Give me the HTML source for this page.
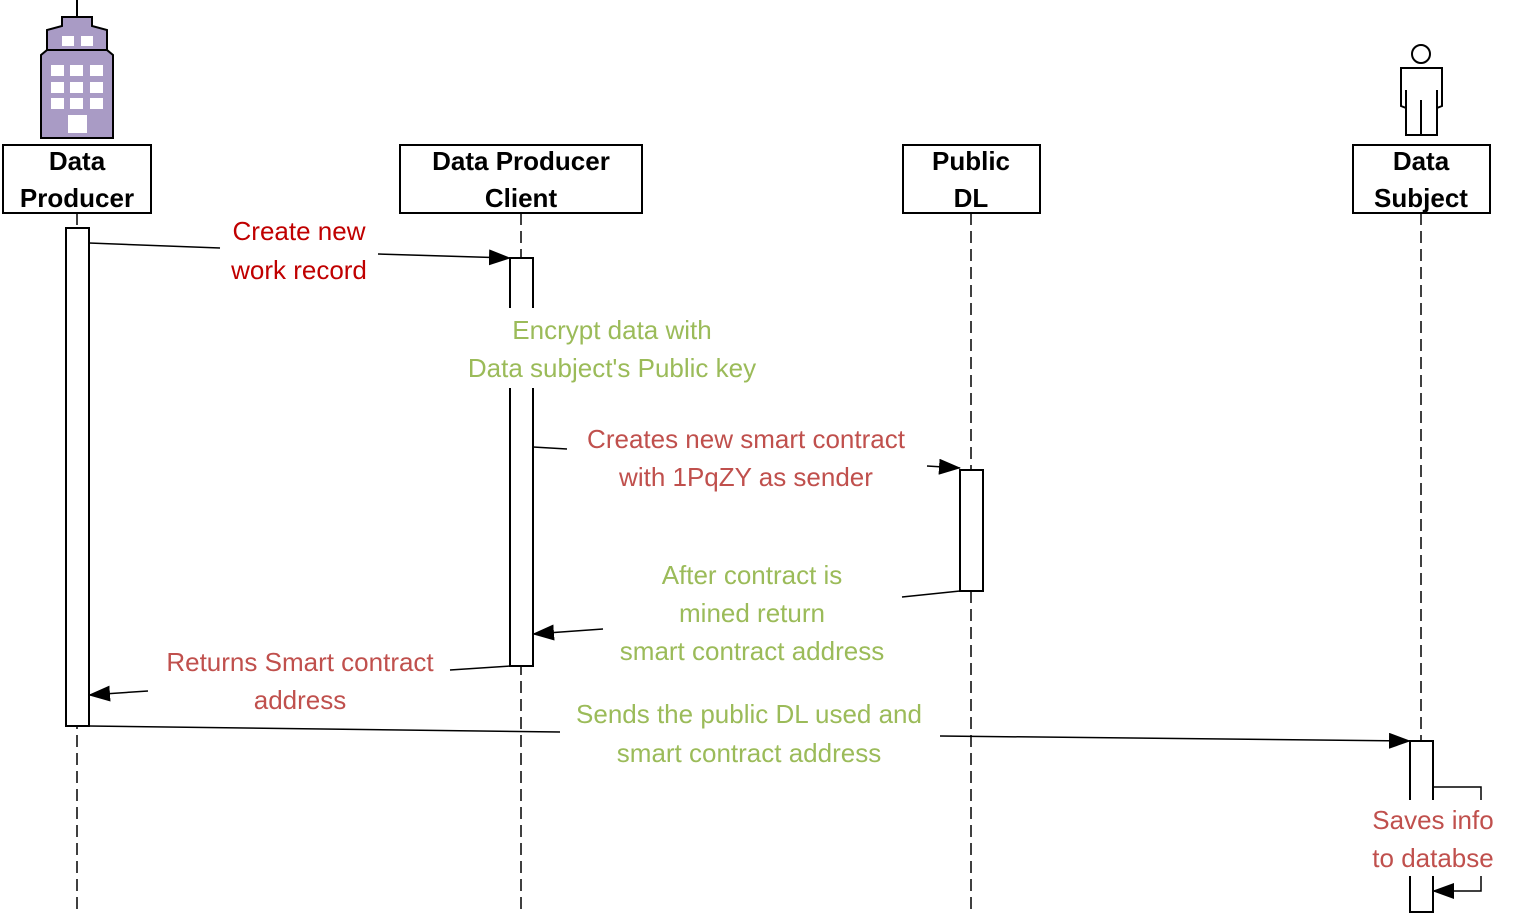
<!DOCTYPE html>
<html><head><style>body{margin:0;background:#fff}svg{display:block}text{font-family:"Liberation Sans",sans-serif}</style></head>
<body>
<svg width="1519" height="914" viewBox="0 0 1519 914" xmlns="http://www.w3.org/2000/svg">
<defs><marker id="b" markerWidth="22" markerHeight="16" refX="21" refY="8" orient="auto" markerUnits="userSpaceOnUse"><path d="M0,0 L22,8 L0,16z" fill="#000"/></marker></defs>
<g stroke="#000" stroke-width="2" fill="none">
<line x1="77" y1="0" x2="77" y2="17"/>
<path d="M62,17 H92 V26 L107,30 V50 L113,55 V138 H41 V55 L47,50 V30 L62,26Z" fill="#a99bc5"/>
<line x1="47" y1="50" x2="107" y2="50"/>
<circle cx="1421" cy="54" r="9" fill="#fff"/>
<path d="M1401,68 H1442 V106 L1437,108 V135 H1406 V108 L1401,106 Z" fill="#fff"/>
<line x1="1406" y1="90" x2="1406" y2="108"/><line x1="1437" y1="90" x2="1437" y2="108"/>
<line x1="1421" y1="100" x2="1421" y2="135"/>
<g stroke-dasharray="12,6" stroke-width="1.5">
<line x1="77" y1="213" x2="77" y2="914"/><line x1="521" y1="213" x2="521" y2="914"/>
<line x1="971" y1="213" x2="971" y2="914"/><line x1="1421" y1="213" x2="1421" y2="914"/>
</g>
<rect x="3" y="145" width="148" height="68" fill="#fff"/>
<rect x="400" y="145" width="242" height="68" fill="#fff"/>
<rect x="903" y="145" width="137" height="68" fill="#fff"/>
<rect x="1353" y="145" width="137" height="68" fill="#fff"/>
<rect x="66" y="228" width="23" height="498" fill="#fff"/>
<rect x="510" y="258" width="23" height="408" fill="#fff"/>
<rect x="960" y="470" width="23" height="121" fill="#fff"/>
<rect x="1410" y="741" width="23" height="171" fill="#fff"/>
<g stroke-width="1.5">
<line x1="89" y1="243" x2="220" y2="248"/><line x1="378" y1="254" x2="510" y2="258" marker-end="url(#b)"/>
<line x1="533" y1="447" x2="567" y2="449"/><line x1="927" y1="466" x2="960" y2="468" marker-end="url(#b)"/>
<line x1="902" y1="597" x2="960" y2="591"/><line x1="603" y1="629" x2="533" y2="634" marker-end="url(#b)"/>
<line x1="450" y1="670" x2="510" y2="666"/><line x1="148" y1="691" x2="89" y2="695" marker-end="url(#b)"/>
<line x1="89" y1="726" x2="560" y2="732"/><line x1="940" y1="736" x2="1410" y2="741" marker-end="url(#b)"/>
<path d="M1433,787 H1481 V891 H1433" marker-end="url(#b)"/>
</g>
</g>
<rect x="440" y="308" width="340" height="80" fill="#fff"/>
<rect x="1360" y="800" width="148" height="76" fill="#fff"/>
<g fill="#fff">
<rect x="62" y="36" width="12" height="10"/><rect x="81" y="36" width="12" height="10"/>
<rect x="51" y="65" width="13" height="11"/><rect x="70" y="65" width="13" height="11"/><rect x="90" y="65" width="13" height="11"/>
<rect x="51" y="82" width="13" height="11"/><rect x="70" y="82" width="13" height="11"/><rect x="90" y="82" width="13" height="11"/>
<rect x="51" y="98" width="13" height="11"/><rect x="70" y="98" width="13" height="11"/><rect x="90" y="98" width="13" height="11"/>
<rect x="68" y="115" width="19" height="18"/>
</g>
<g font-size="26" font-weight="bold" text-anchor="middle" fill="#000">
<text x="77" y="170">Data</text><text x="77" y="207">Producer</text>
<text x="521" y="170">Data Producer</text><text x="521" y="207">Client</text>
<text x="971" y="170">Public</text><text x="971" y="207">DL</text>
<text x="1421" y="170">Data</text><text x="1421" y="207">Subject</text>
</g>
<g font-size="26" text-anchor="middle">
<text x="299" y="240" fill="#c00000">Create new</text><text x="299" y="279" fill="#c00000">work record</text>
<text x="612" y="339" fill="#9bbb59">Encrypt data with</text><text x="612" y="377" fill="#9bbb59">Data subject's Public key</text>
<text x="746" y="448" fill="#c0504d">Creates new smart contract</text><text x="746" y="486" fill="#c0504d">with 1PqZY as sender</text>
<text x="752" y="584" fill="#9bbb59">After contract is</text><text x="752" y="622" fill="#9bbb59">mined return</text><text x="752" y="660" fill="#9bbb59">smart contract address</text>
<text x="300" y="671" fill="#c0504d">Returns Smart contract</text><text x="300" y="709" fill="#c0504d">address</text>
<text x="749" y="723" fill="#9bbb59">Sends the public DL used and</text><text x="749" y="762" fill="#9bbb59">smart contract address</text>
<text x="1433" y="829" fill="#c0504d">Saves info</text><text x="1433" y="867" fill="#c0504d">to databse</text>
</g>
</svg>
</body></html>
